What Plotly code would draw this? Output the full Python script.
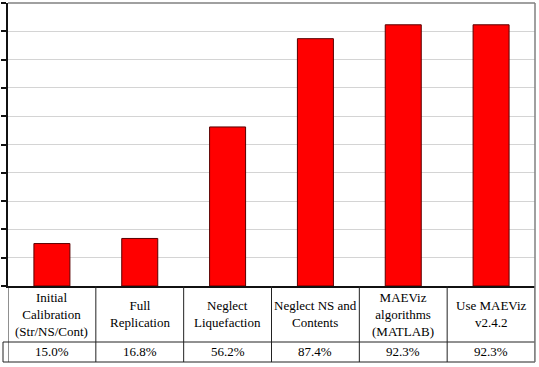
import plotly.graph_objects as go

categories = ["Initial<br>Calibration<br>(Str/NS/Cont)", "Full<br>Replication", "Neglect<br>Liquefaction",
              "Neglect NS and<br>Contents", "MAEViz<br>algorithms<br>(MATLAB)", "Use MAEViz<br>v2.4.2"]
values = [0.150, 0.168, 0.562, 0.874, 0.923, 0.923]
value_labels = ["15.0%", "16.8%", "56.2%", "87.4%", "92.3%", "92.3%"]

W, H = 539, 367
L, R, T, B = 8, 4, 3, 81
ph = H - T - B  # plot height in px

def py(pixel_y):
    return (H - B - pixel_y) / ph

xs = list(range(len(categories)))
fig = go.Figure(go.Bar(x=xs, y=values, width=0.41,
                       marker=dict(color="#FF0000", line=dict(color="#5a0000", width=1))))

font = dict(family="'Times New Roman', 'Liberation Serif', serif", size=13, color="black")

shapes = []
line_dark = dict(color="#222222", width=1)
# horizontal table lines
for yy in [342, 362]:
    shapes.append(dict(type="line", xref="paper", yref="paper", x0=-5 / (W - L - R), x1=1, y0=py(yy), y1=py(yy), line=line_dark))
# vertical column lines
for i in range(len(categories) + 1):
    shapes.append(dict(type="line", xref="x", yref="paper", x0=i - 0.5, x1=i - 0.5, y0=0, y1=py(362), line=line_dark))
# small legend-key cell left edge
shapes.append(dict(type="line", xref="paper", yref="paper", x0=-5 / (W - L - R), x1=-5 / (W - L - R), y0=py(342), y1=py(362), line=line_dark))
# plot border top/right (gray)
shapes.append(dict(type="line", xref="paper", yref="paper", x0=0, x1=1, y0=1, y1=1, line=dict(color="#808080", width=1.5)))
shapes.append(dict(type="line", xref="paper", yref="paper", x0=1, x1=1, y0=py(362), y1=1, line=dict(color="#808080", width=1.5)))

annotations = []
for i, c in enumerate(categories):
    annotations.append(dict(x=i, y=py(314), xref="x", yref="paper", text=c, showarrow=False,
                            xanchor="center", yanchor="middle", font=font, align="center"))
    annotations.append(dict(x=i, y=py(352), xref="x", yref="paper", text=value_labels[i], showarrow=False,
                            xanchor="center", yanchor="middle", font=font))

fig.update_layout(
    width=W, height=H,
    margin=dict(l=L, r=R, t=T, b=B),
    paper_bgcolor="white", plot_bgcolor="white",
    showlegend=False,
    font=font,
    shapes=shapes, annotations=annotations,
    xaxis=dict(range=[-0.5, len(categories) - 0.5], showticklabels=False, ticks="",
               showgrid=False, zeroline=False, showline=True, linecolor="#111111", linewidth=2),
    yaxis=dict(range=[0, 1], dtick=0.1, showticklabels=False, ticks="outside", ticklen=5,
               tickcolor="#111111", tickwidth=1.5, showgrid=True, gridcolor="#d4d4d4", gridwidth=1,
               zeroline=False, showline=True, linecolor="#111111", linewidth=2),
)

fig.write_html("out.html")
